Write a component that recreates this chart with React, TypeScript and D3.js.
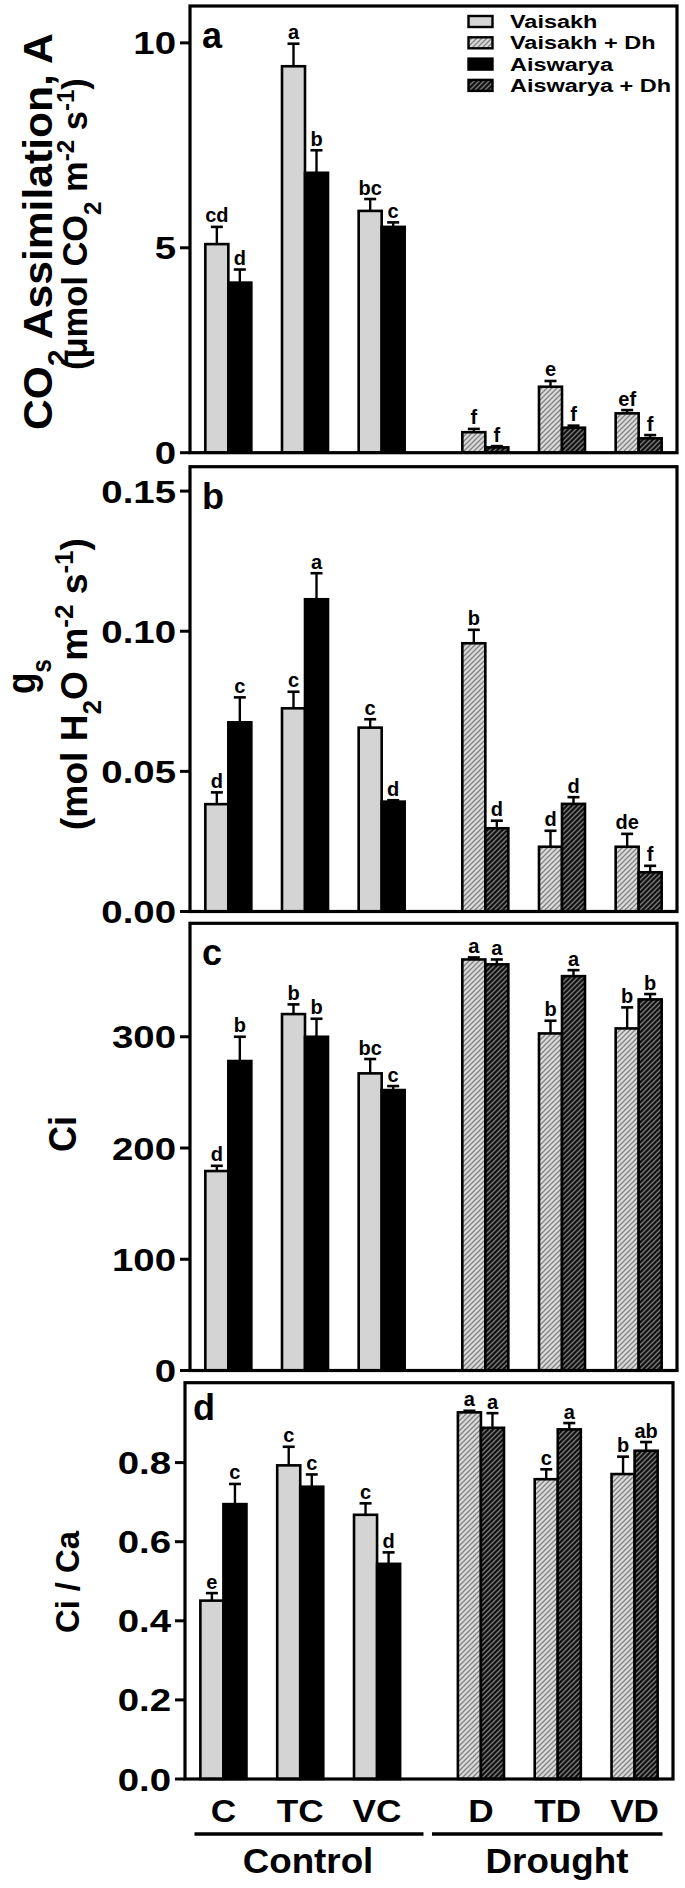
import React from 'react';
import * as d3 from 'd3';

// ---------- data ----------
const treatments = ["C", "TC", "VC", "D", "TD", "VD"];
const conditionOf = ["Control", "Control", "Control", "Drought", "Drought", "Drought"];
const conditions = ["Control", "Drought"];
const legendLabels = ["Vaisakh", "Vaisakh + Dh", "Aiswarya", "Aiswarya + Dh"];

// (a) CO2 assimilation
const assimV = [5.09, 9.43, 5.9, 0.5, 1.61, 0.96];
const assimVErr = [0.42, 0.55, 0.29, 0.08, 0.14, 0.08];
const assimA = [4.15, 6.83, 5.51, 0.13, 0.61, 0.35];
const assimAErr = [0.32, 0.55, 0.11, 0.03, 0.05, 0.08];
const assimVLetters = ["cd", "a", "bc", "f", "e", "ef"];
const assimALetters = ["d", "b", "c", "f", "f", "f"];
const assimTicks = [0, 5, 10];

// (b) gs
const gsV = [0.0383, 0.0725, 0.0656, 0.0957, 0.0231, 0.0231];
const gsVErr = [0.0042, 0.0059, 0.003, 0.0048, 0.0057, 0.0046];
const gsA = [0.0675, 0.1114, 0.0392, 0.0297, 0.0384, 0.014];
const gsAErr = [0.0089, 0.0093, 0.0005, 0.0027, 0.0024, 0.0023];
const gsVLetters = ["d", "c", "c", "b", "d", "de"];
const gsALetters = ["c", "a", "d", "d", "d", "f"];
const gsTicks = [0, 0.05, 0.1, 0.15];

// (c) Ci
const ciV = [179.3, 320.4, 267.1, 369.5, 303, 307.5];
const ciVErr = [4.7, 8.7, 12.9, 1.8, 11.4, 18.9];
const ciA = [278.2, 300, 252.1, 365.1, 354.5, 333.6];
const ciAErr = [21.8, 16.2, 3.6, 4.4, 5.4, 4.8];
const ciVLetters = ["d", "b", "bc", "a", "b", "b"];
const ciALetters = ["b", "b", "c", "a", "a", "b"];
const ciTicks = [0, 100, 200, 300];

// (d) Ci / Ca
const ratioV = [0.451, 0.793, 0.668, 0.927, 0.758, 0.771];
const ratioVErr = [0.019, 0.047, 0.029, 0.004, 0.025, 0.044];
const ratioA = [0.695, 0.739, 0.544, 0.888, 0.884, 0.83];
const ratioAErr = [0.051, 0.031, 0.029, 0.037, 0.016, 0.022];
const ratioVLetters = ["e", "c", "c", "a", "c", "b"];
const ratioALetters = ["c", "c", "d", "a", "a", "ab"];
const ratioTicks = [0, 0.2, 0.4, 0.6, 0.8];

// ---------- style ----------
const FONT = "'Liberation Sans', Arial, Helvetica, sans-serif";
const GRAY = "#d4d4d4";

type PanelCfg = {
  label: string;
  v: number[]; vErr: number[]; a: number[]; aErr: number[];
  vLet: string[]; aLet: string[];
  ticks: number[]; fmt: (d: number) => string; max: number;
  left: number; right: number; top: number; bottom: number;
};

const panels: PanelCfg[] = [
  { label: "a", v: assimV, vErr: assimVErr, a: assimA, aErr: assimAErr, vLet: assimVLetters, aLet: assimALetters,
    ticks: assimTicks, fmt: d3.format("d"), max: 10.9, left: 190, right: 677, top: 6, bottom: 452.7 },
  { label: "b", v: gsV, vErr: gsVErr, a: gsA, aErr: gsAErr, vLet: gsVLetters, aLet: gsALetters,
    ticks: gsTicks, fmt: d3.format(".2f"), max: 0.1587, left: 190, right: 677, top: 466.7, bottom: 911.5 },
  { label: "c", v: ciV, vErr: ciVErr, a: ciA, aErr: ciAErr, vLet: ciVLetters, aLet: ciALetters,
    ticks: ciTicks, fmt: d3.format("d"), max: 402, left: 190, right: 677, top: 923.3, bottom: 1370.5 },
  { label: "d", v: ratioV, vErr: ratioVErr, a: ratioA, aErr: ratioAErr, vLet: ratioVLetters, aLet: ratioALetters,
    ticks: ratioTicks, fmt: d3.format(".1f"), max: 1.002, left: 185, right: 673, top: 1382.7, bottom: 1779 },
];

function makeX(left: number, right: number) {
  const outer = d3.scaleBand<string>().domain(conditions).range([left, right]).paddingInner(0.105).paddingOuter(0);
  const inners: Record<string, d3.ScaleBand<string>> = {};
  conditions.forEach((c) => {
    inners[c] = d3.scaleBand<string>()
      .domain(treatments.filter((_, j) => conditionOf[j] === c))
      .range([0, outer.bandwidth()]);
  });
  const center = (i: number) => {
    const c = conditionOf[i];
    const inner = inners[c];
    return (outer(c) as number) + (inner(treatments[i]) as number) + inner.bandwidth() / 2;
  };
  const barW = inners["Control"].bandwidth() * 0.3;
  return { center, barW };
}

function fillFor(variety: number, i: number) {
  const drought = conditionOf[i] === "Drought";
  if (variety === 0) return drought ? "url(#hatchLight)" : GRAY;
  return drought ? "url(#hatchDark)" : "#000";
}

function Panel({ cfg }: { cfg: PanelCfg }) {
  const y = d3.scaleLinear().domain([0, cfg.max]).range([cfg.bottom, cfg.top]);
  const { center, barW } = makeX(cfg.left, cfg.right);
  const series = [
    { vals: cfg.v, errs: cfg.vErr, lets: cfg.vLet, variety: 0 },
    { vals: cfg.a, errs: cfg.aErr, lets: cfg.aLet, variety: 1 },
  ];
  return (
    <g>
      {series.map((s) =>
        s.vals.map((val, i) => {
          const c = center(i);
          const x0 = s.variety === 0 ? c - barW : c;
          const xm = x0 + barW / 2;
          const yTop = y(val);
          const yErr = y(val + s.errs[i]);
          return (
            <g key={`${s.variety}-${i}`}>
              <line x1={xm} x2={xm} y1={yTop} y2={yErr} stroke="#000" strokeWidth={2.4} />
              <line x1={xm - 6} x2={xm + 6} y1={yErr} y2={yErr} stroke="#000" strokeWidth={2.6} />
              <rect x={x0} y={yTop} width={barW} height={cfg.bottom - yTop}
                fill={fillFor(s.variety, i)} stroke="#000" strokeWidth={2.6} />
              <text x={xm} y={yErr - 4.5} textAnchor="middle" fontFamily={FONT} fontWeight="bold" fontSize={20}>
                {s.lets[i]}
              </text>
            </g>
          );
        })
      )}
      <rect x={cfg.left} y={cfg.top} width={cfg.right - cfg.left} height={cfg.bottom - cfg.top}
        fill="none" stroke="#000" strokeWidth={3.2} />
      {cfg.ticks.map((t) => (
        <g key={t}>
          <line x1={cfg.left - 10} x2={cfg.left} y1={y(t)} y2={y(t)} stroke="#000" strokeWidth={3} />
          <text transform={`translate(${cfg.left - 14},${y(t)}) scale(1.2,1)`} dy="0.36em" textAnchor="end"
            fontFamily={FONT} fontWeight="bold" fontSize={32}>
            {cfg.fmt(t)}
          </text>
        </g>
      ))}
      <text x={cfg.left + (cfg.label === "d" ? 8 : 12)} y={cfg.top + (cfg.label === "d" ? 37.5 : 42)}
        fontFamily={FONT} fontWeight="bold" fontSize={36}>
        {cfg.label}
      </text>
    </g>
  );
}

// Rotated title: measured in the browser, then stretched to span exactly y0..y1 with its baseline at x.
function RotTitle({ x, y0, y1, size, children }:
  { x: number; y0: number; y1: number; size: number; children: React.ReactNode }) {
  const ref = React.useRef<SVGTextElement>(null);
  const [fit, setFit] = React.useState<{ k: number; mid: number } | null>(null);
  React.useLayoutEffect(() => {
    const el = ref.current;
    if (!el) return;
    const b = el.getBBox();
    if (b.width > 0) setFit({ k: (y1 - y0) / b.width, mid: b.x + b.width / 2 });
  }, []);
  const cy = (y0 + y1) / 2;
  const tr = fit
    ? `translate(${x},${cy}) rotate(-90) scale(${fit.k},1) translate(${-fit.mid},0)`
    : `translate(${x},${cy}) rotate(-90)`;
  return (
    <text ref={ref} transform={tr} fontFamily={FONT} fontWeight="bold" fontSize={size}>
      {children}
    </text>
  );
}

const sub = (t: string) => <tspan baselineShift="sub" fontSize="70%">{t}</tspan>;
const sup = (t: string) => <tspan baselineShift="super" fontSize="70%">{t}</tspan>;

export default function App() {
  React.useEffect(() => {
    document.body.style.margin = "0";
    document.body.style.overflow = "hidden";
  }, []);

  const legendFills = [GRAY, "url(#hatchLight)", "#000", "url(#hatchDark)"];
  const d = panels[3];
  const { center } = makeX(d.left, d.right);
  const groupLines = [
    { name: "Control", x1: 194.5, x2: 423.5, tx: 308 },
    { name: "Drought", x1: 432, x2: 662.5, tx: 557 },
  ];
  const legendStep = 21.3;

  return (
    <svg width={685} height={1888} style={{ position: "absolute", left: 0, top: 0, background: "#fff" }}>
      <defs>
        <pattern id="hatchLight" patternUnits="userSpaceOnUse" width={5} height={5}>
          <rect width={5} height={5} fill="#dadada" />
          <path d="M-1,1 L1,-1 M0,5 L5,0 M4,6 L6,4" stroke="#808080" strokeWidth={1.3} />
        </pattern>
        <pattern id="hatchDark" patternUnits="userSpaceOnUse" width={5} height={5}>
          <rect width={5} height={5} fill="#111" />
          <path d="M-1,1 L1,-1 M0,5 L5,0 M4,6 L6,4" stroke="#7a7a7a" strokeWidth={1.3} />
        </pattern>
      </defs>

      {panels.map((p) => <Panel key={p.label} cfg={p} />)}

      {/* legend */}
      {legendLabels.map((lab, i) => (
        <g key={lab}>
          <rect x={468.5} y={16 + i * legendStep} width={24} height={11} fill={legendFills[i]}
            stroke="#000" strokeWidth={2.4} />
          <text transform={`translate(510,${28 + i * legendStep}) scale(1.27,1)`} fontFamily={FONT}
            fontWeight="bold" fontSize={18.5}>
            {lab}
          </text>
        </g>
      ))}

      {/* y-axis titles */}
      <RotTitle x={52} y0={33} y1={430} size={41}>CO{sub("2")} Assimilation, A</RotTitle>
      <RotTitle x={87} y0={78} y1={370} size={35}>(μmol CO{sub("2")} m{sup("-2")} s{sup("-1")})</RotTitle>
      <RotTitle x={35} y0={659} y1={694} size={40}>g{sub("s")}</RotTitle>
      <RotTitle x={87} y0={538} y1={830} size={36}>(mol H{sub("2")}O m{sup("-2")} s{sup("-1")})</RotTitle>
      <RotTitle x={76} y0={1116} y1={1152} size={38}>Ci</RotTitle>
      <RotTitle x={79} y0={1530} y1={1633} size={34}>Ci / Ca</RotTitle>

      {/* x labels */}
      {treatments.map((t, i) => (
        <text key={t} transform={`translate(${center(i)},1821.5) scale(1.1,1)`} textAnchor="middle"
          fontFamily={FONT} fontWeight="bold" fontSize={32}>
          {t}
        </text>
      ))}
      {groupLines.map((g) => (
        <g key={g.name}>
          <line x1={g.x1} x2={g.x2} y1={1834} y2={1834} stroke="#000" strokeWidth={3.5} />
          <text transform={`translate(${g.tx},1873) scale(1.05,1)`} textAnchor="middle"
            fontFamily={FONT} fontWeight="bold" fontSize={35}>
            {g.name}
          </text>
        </g>
      ))}
    </svg>
  );
}
